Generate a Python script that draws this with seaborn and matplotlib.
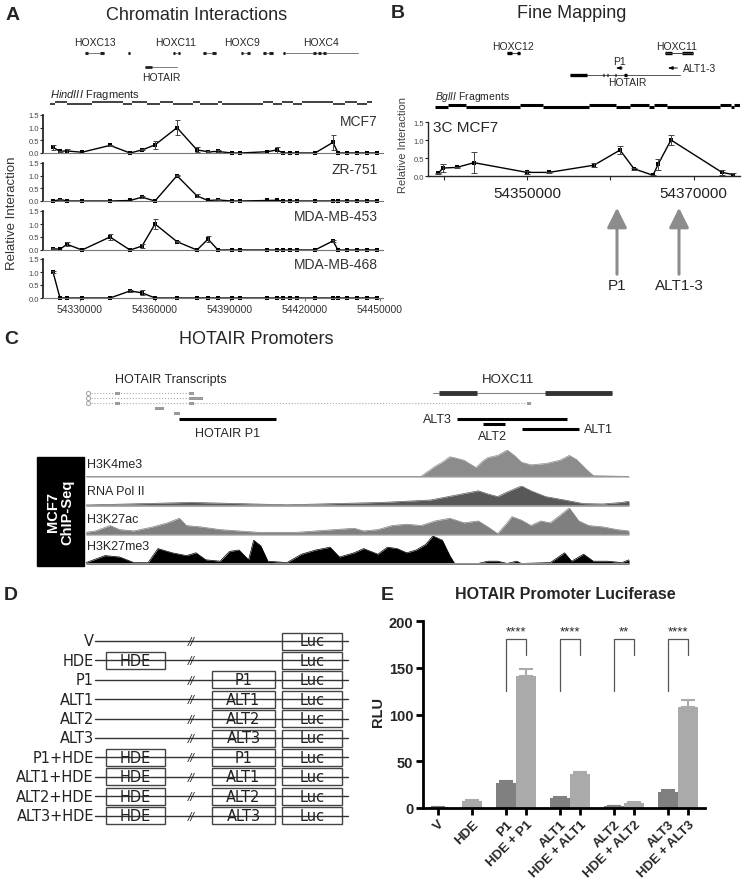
import numpy as np
import pandas as pd
import matplotlib
matplotlib.use("Agg")
import matplotlib.pyplot as plt
from matplotlib.patches import Rectangle
import seaborn as sns

# ---------------- panel A : HindIII 3C profiles ----------------
a_pos = [54319200, 54322000, 54324800, 54330800, 54342000, 54350000, 54354800, 54360000,
         54368800, 54376800, 54381200, 54385200, 54390800, 54394000, 54404800, 54408800,
         54411200, 54414000, 54416800, 54424000, 54431200, 54433200, 54436800, 54440800,
         54444800, 54448800]
a_mcf7 = [0.22, 0.07, 0.08, 0.03, 0.30, 0.0, 0.12, 0.32, 1.0, 0.12, 0.05, 0.06, 0.0,
          0.0, 0.05, 0.12, 0.0, 0.0, 0.0, 0.0, 0.42, 0.0, 0.0, 0.0, 0.0, 0.0]
a_mcf7_err = [0.10, 0.02, 0.07, 0.0, 0.02, 0.0, 0.02, 0.15, 0.30, 0.10, 0.02, 0.04, 0.0,
              0.0, 0.0, 0.12, 0.0, 0.0, 0.0, 0.0, 0.30, 0.0, 0.0, 0.0, 0.0, 0.0]
a_zr = [0.0, 0.05, 0.0, 0.0, 0.0, 0.02, 0.15, 0.0, 1.0, 0.20, 0.02, 0.04, 0.0,
        0.0, 0.02, 0.03, 0.0, 0.0, 0.0, 0.0, 0.0, 0.0, 0.0, 0.0, 0.0, 0.0]
a_zr_err = [0.0, 0.02, 0.0, 0.0, 0.0, 0.0, 0.03, 0.0, 0.03, 0.06, 0.0, 0.02, 0.0,
            0.0, 0.0, 0.0, 0.0, 0.0, 0.0, 0.0, 0.0, 0.0, 0.0, 0.0, 0.0, 0.0]
a_453 = [0.05, 0.03, 0.22, 0.0, 0.50, 0.0, 0.15, 1.0, 0.32, 0.0, 0.42, 0.0, 0.0,
         0.0, 0.0, 0.0, 0.0, 0.0, 0.0, 0.0, 0.35, 0.0, 0.0, 0.0, 0.0, 0.0]
a_453_err = [0.02, 0.0, 0.08, 0.0, 0.10, 0.0, 0.08, 0.20, 0.02, 0.0, 0.12, 0.0, 0.0,
             0.0, 0.0, 0.0, 0.0, 0.0, 0.0, 0.0, 0.03, 0.0, 0.0, 0.0, 0.0, 0.0]
a_468 = [1.0, 0.0, 0.0, 0.0, 0.0, 0.27, 0.20, 0.0, 0.0, 0.0, 0.0, 0.0, 0.0,
         0.0, 0.0, 0.0, 0.0, 0.0, 0.0, 0.0, 0.0, 0.0, 0.0, 0.0, 0.0, 0.0]
a_468_err = [0.02, 0.0, 0.0, 0.0, 0.0, 0.02, 0.10, 0.0, 0.0, 0.0, 0.0, 0.0, 0.0,
             0.0, 0.0, 0.0, 0.0, 0.0, 0.0, 0.0, 0.0, 0.0, 0.0, 0.0, 0.0, 0.0]
a_cells = ["MCF7", "ZR-751", "MDA-MB-453", "MDA-MB-468"]
a_xticks = [54330000, 54360000, 54390000, 54420000, 54450000]

a_gene_names = ["HOXC13", "HOXC11", "HOXC9", "HOXC4"]
a_gene_mid = [54336000, 54368400, 54394800, 54426400]
a_gene_spans = [(54332000, 54339600), (54349200, 54350000), (54367200, 54370000),
                (54379200, 54384400), (54394400, 54398000), (54403200, 54407200),
                (54411200, 54441200)]
a_exons = [(54332000, 54333200), (54338000, 54339600), (54349200, 54350000),
           (54367200, 54368000), (54369200, 54370000), (54379200, 54380400),
           (54382800, 54384400), (54394400, 54395200), (54396800, 54398000),
           (54403200, 54404400), (54405600, 54407200), (54411200, 54412000),
           (54423200, 54424400), (54425200, 54426400), (54427200, 54428400)]
a_hotair = (54356000, 54368800)
a_hotair_exon = (54356000, 54358800)
a_frags = [54318000, 54320000, 54324800, 54334800, 54347200, 54350800, 54356800, 54362000,
           54367200, 54375200, 54378000, 54385200, 54386800, 54403200, 54407200, 54410800,
           54415200, 54418800, 54431200, 54436000, 54440800, 54444800, 54446800]

# ---------------- panel B : BglII fine mapping ----------------
b_pos = [54339320, 54339920, 54341600, 54343640, 54350000, 54352640, 54358040,
         54361160, 54362840, 54365120, 54365720, 54367280, 54373400, 54374720]
b_val = [0.07, 0.22, 0.24, 0.37, 0.10, 0.10, 0.30, 0.72, 0.20, 0.02, 0.32, 1.00, 0.10, 0.04]
b_err = [0.02, 0.10, 0.02, 0.30, 0.05, 0.02, 0.05, 0.12, 0.02, 0.02, 0.15, 0.13, 0.07, 0.03]
b_frags = [54338960, 54340520, 54342680, 54349160, 54351920, 54357440, 54360680, 54362360,
           54364640, 54365240, 54366800, 54373160, 54374480, 54374840, 54375560]
b_hoxc12 = [(54347600, 54348200), (54348800, 54349160)]
b_hoxc11 = [(54366560, 54367400), (54368600, 54369920)]
b_hotair = (54355160, 54368360)
b_hotair_exons = [(54355160, 54357200), (54359120, 54359280), (54359600, 54359760),
                  (54360560, 54360720), (54361640, 54362000)]
b_p1_arrow = (54361760, 54360320)
b_alt_arrow = (54368360, 54366560)
b_marks = [("P1", 54360800), ("ALT1-3", 54368240)]

# ---------------- panel C : browser view (kb) ----------------
c_tx_start = 0.06
c_tx_ends = [3.18, 3.45, 13.11]
c_tx_exons = [[(0.85, 1.00), (3.04, 3.18)], [(3.04, 3.45)], [(0.85, 1.00), (3.04, 3.18), (13.00, 13.11)]]
c_short = [(2.03, 2.30), (2.59, 2.77)]
c_hoxc11 = (10.23, 15.50)
c_hoxc11_exons = [(10.40, 11.52), (13.53, 15.50)]
c_regions = {"HOTAIR P1": (2.74, 5.60), "ALT3": (10.93, 14.17), "ALT2": (11.70, 12.35), "ALT1": (12.85, 14.53)}

k4_pos = [0, 9.87, 10.01, 10.29, 10.50, 10.72, 10.90, 11.14, 11.49, 11.70, 11.84, 12.13,
          12.41, 12.62, 12.83, 13.11, 13.54, 13.96, 14.24, 14.45, 14.73, 14.95, 16.0]
k4_val = [0.02, 0.02, 0.15, 0.40, 0.55, 0.75, 0.70, 0.62, 0.35, 0.60, 0.72, 0.80,
          1.00, 0.80, 0.55, 0.45, 0.50, 0.62, 0.80, 0.65, 0.30, 0.05, 0.02]
pol_pos = [0, 1.69, 3.10, 4.51, 5.92, 7.33, 8.74, 10.15, 10.86, 11.56, 11.84, 12.13,
           12.41, 12.83, 13.11, 13.54, 14.10, 14.66, 15.23, 15.79, 16.0]
pol_val = [0.05, 0.12, 0.18, 0.12, 0.06, 0.12, 0.18, 0.30, 0.53, 0.76, 0.60, 0.47,
           0.70, 1.00, 0.76, 0.47, 0.30, 0.12, 0.10, 0.18, 0.24]
ac_pos = [0, 0.28, 0.71, 0.99, 1.41, 1.97, 2.40, 2.75, 2.96, 3.38, 3.95, 4.51, 5.08, 5.64,
          6.20, 6.77, 7.33, 7.90, 8.18, 8.60, 9.02, 9.45, 9.87, 10.29, 10.72, 11.14, 11.56,
          11.84, 12.13, 12.41, 12.55, 12.83, 13.11, 13.40, 13.68, 13.96, 14.24, 14.52, 14.81,
          15.23, 15.65, 16.0]
ac_val = [0.10, 0.15, 0.35, 0.20, 0.15, 0.30, 0.45, 0.62, 0.35, 0.30, 0.20, 0.15, 0.10, 0.10,
          0.10, 0.15, 0.20, 0.25, 0.15, 0.20, 0.35, 0.40, 0.35, 0.52, 0.62, 0.45, 0.52,
          0.30, 0.05, 0.45, 0.68, 0.55, 0.35, 0.52, 0.45, 0.72, 1.00, 0.52, 0.35,
          0.30, 0.20, 0.15]
me3_pos = [0, 0.56, 0.99, 1.41, 1.83, 2.12, 2.54, 2.96, 3.24, 3.53, 3.95, 4.23, 4.51, 4.79,
           4.94, 5.15, 5.36, 5.92, 6.35, 6.77, 7.19, 7.47, 7.90, 8.18, 8.60, 8.88, 9.17, 9.45,
           9.73, 10.01, 10.22, 10.50, 10.72, 10.86, 11.56, 11.84, 12.13, 12.41, 12.69, 12.83,
           13.68, 14.10, 14.31, 14.66, 14.95, 15.37, 15.79, 16.0]
me3_val = [0.05, 0.30, 0.25, 0.05, 0.05, 0.55, 0.40, 0.30, 0.40, 0.15, 0.10, 0.45, 0.50, 0.15,
           0.85, 0.65, 0.10, 0.05, 0.35, 0.50, 0.60, 0.25, 0.40, 0.55, 0.35, 0.60, 0.55, 0.40,
           0.50, 0.70, 1.00, 0.85, 0.30, 0.02, 0.02, 0.10, 0.10, 0.02, 0.10, 0.02,
           0.05, 0.40, 0.10, 0.35, 0.10, 0.10, 0.05, 0.15]

# ---------------- panel D : constructs ----------------
d_names = ["V", "HDE", "P1", "ALT1", "ALT2", "ALT3", "P1+HDE", "ALT1+HDE", "ALT2+HDE", "ALT3+HDE"]
d_enh = [False, True, False, False, False, False, True, True, True, True]
d_prom = [None, None, "P1", "ALT1", "ALT2", "ALT3", "P1", "ALT1", "ALT2", "ALT3"]

# ---------------- panel E : luciferase ----------------
e_labels = ["V", "HDE", "P1", "HDE + P1", "ALT1", "HDE + ALT1", "ALT2", "HDE + ALT2", "ALT3", "HDE + ALT3"]
e_rlu = [1.0, 7.5, 27, 141, 11, 36, 2, 5.5, 17.5, 108.5]
e_err = [0.3, 1.0, 1.5, 8, 1.0, 2.0, 0.5, 1.2, 1.5, 7.5]
e_group = ["alone", "hde", "alone", "hde", "alone", "hde", "alone", "hde", "alone", "hde"]
e_sig = ["****", "****", "**", "****"]

W, H = 750, 887
sns.set_style("ticks")
plt.rcParams["font.family"] = ["Liberation Sans", "DejaVu Sans"]
plt.rcParams["mathtext.fontset"] = "custom"
plt.rcParams["mathtext.it"] = "Liberation Sans:italic"
plt.rcParams["mathtext.rm"] = "Liberation Sans"

fig = plt.figure(figsize=(W / 100, H / 100), dpi=100)
fig.patch.set_facecolor("white")


def box(x0, y0, x1, y1):
    return fig.add_axes([x0 / W, 1 - y1 / H, (x1 - x0) / W, (y1 - y0) / H])


def ftext(x, y, s, **kw):
    kw.setdefault("ha", "center")
    kw.setdefault("va", "center")
    fig.text(x / W, 1 - y / H, s, **kw)


# panel letters and titles
for lab, x, y in [("A", 13, 15), ("B", 398, 14), ("C", 11, 339), ("D", 11, 596), ("E", 387, 596)]:
    ftext(x, y, lab, fontsize=14, fontweight="bold")
ftext(197, 15, "Chromatin Interactions", fontsize=13)
ftext(572, 14, "Fine Mapping", fontsize=13)
ftext(256, 339, "HOTAIR Promoters", fontsize=13)
ftext(565, 595, "HOTAIR Promoter Luciferase", fontsize=11.5, fontweight="bold")

# ---- A: gene track ----
a_xlim = (54315200, 54451200)
ax = box(43, 30, 383, 112)
ax.set_xlim(*a_xlim)
ax.set_ylim(112, 30)
ax.axis("off")
for s, e in a_gene_spans:
    ax.plot([s, e], [54, 54], color="#666", lw=0.6)
for s, e in a_exons:
    ax.plot([s, e], [54, 54], color="#222", lw=2.2, solid_capstyle="butt")
for name, m in zip(a_gene_names, a_gene_mid):
    ax.text(m, 43, name, ha="center", va="center", fontsize=7.5)
ax.plot(a_hotair, [68, 68], color="#666", lw=0.6)
ax.plot(a_hotair_exon, [68, 68], color="#222", lw=2, solid_capstyle="butt")
ax.text(np.mean(a_hotair), 78, "HOTAIR", ha="center", va="center", fontsize=7.5)
ax.text(a_frags[0], 95, r"$\it{HindIII}$ Fragments", ha="left", va="center", fontsize=8)
for i in range(len(a_frags) - 1):
    yy = 102.5 if i % 2 else 104.5
    ax.plot([a_frags[i], a_frags[i + 1]], [yy, yy], color="#333", lw=1.3, solid_capstyle="butt")

# ---- A: interaction profiles ----
a_rows = [(a_mcf7, a_mcf7_err, 116, 154, 122), (a_zr, a_zr_err, 164, 202, 170),
          (a_453, a_453_err, 212, 251, 217), (a_468, a_468_err, 260, 299, 265)]
for k, (vals, err, top, bot, ly) in enumerate(a_rows):
    ax = box(43, top, 383, bot)
    sns.lineplot(x=a_pos, y=vals, ax=ax, color="black", linewidth=1.0, marker="s",
                 markersize=2.2, markeredgewidth=0, clip_on=False)
    m = np.array(err) > 0
    ax.errorbar(np.array(a_pos)[m], np.array(vals)[m], yerr=np.array(err)[m], fmt="none",
                ecolor="#444", elinewidth=0.7, capsize=1.8, capthick=0.7, clip_on=False)
    ax.set_xlim(*a_xlim)
    ax.set_ylim(0, 1.5)
    ax.set_yticks([0, 0.5, 1.0, 1.5])
    ax.set_yticklabels(["0.0", "0.5", "1.0", "1.5"], fontsize=5.5, color="#444")
    ax.tick_params(axis="y", length=2, width=0.8, pad=1)
    for sp in ["top", "right"]:
        ax.spines[sp].set_visible(False)
    ax.spines["left"].set_linewidth(1.3)
    ax.spines["bottom"].set_color("#777")
    ax.spines["bottom"].set_linewidth(0.8)
    if k == 3:
        ax.set_xticks(a_xticks)
        ax.set_xticklabels([str(t) for t in a_xticks], fontsize=7.5, color="#333")
        ax.tick_params(axis="x", length=2, color="#777", pad=2)
    else:
        ax.set_xticks([])
    ftext(378, ly, a_cells[k], ha="right", fontsize=10, color="#333")
ftext(12, 213, "Relative Interaction", rotation=90, fontsize=9.5, color="#333")

# ---- B: gene track ----
b_xlim = (54338120, 54375560)
ax = box(428, 35, 740, 112)
ax.set_xlim(*b_xlim)
ax.set_ylim(112, 35)
ax.axis("off")
ax.plot([b_hoxc12[0][0], b_hoxc12[-1][1]], [54, 54], color="#444", lw=0.7)
for s, e in b_hoxc12 + b_hoxc11:
    ax.plot([s, e], [54, 54], color="black", lw=2.4, solid_capstyle="butt")
ax.plot([b_hoxc11[0][0], b_hoxc11[-1][1]], [54, 54], color="#444", lw=0.7)
ax.text(54348320, 47, "HOXC12", ha="center", va="center", fontsize=7.5)
ax.text(54368000, 47, "HOXC11", ha="center", va="center", fontsize=7.5)
ax.plot(b_hotair, [76, 76], color="#555", lw=0.7)
for s, e in b_hotair_exons:
    ax.plot([s, e], [76, 76], color="black", lw=2.4, solid_capstyle="butt")
ax.text(54362000, 83.5, "HOTAIR", ha="center", va="center", fontsize=7.5)
for (x0, x1) in [b_p1_arrow, b_alt_arrow]:
    ax.annotate("", xy=(x1, 69), xytext=(x0, 69),
                arrowprops=dict(arrowstyle="-|>,head_width=0.12,head_length=0.35",
                                color="black", lw=0.7, mutation_scale=8))
ax.text(54361160, 62, "P1", ha="center", va="center", fontsize=7.5)
ax.text(54368720, 69, "ALT1-3", ha="left", va="center", fontsize=7.5)
ax.text(b_frags[0], 97, r"$\it{BglII}$ Fragments", ha="left", va="center", fontsize=7.5)
for i in range(len(b_frags) - 1):
    yy = 108 if i % 2 == 0 else 105.5
    ax.plot([b_frags[i], b_frags[i + 1]], [yy, yy], color="black", lw=2.2, solid_capstyle="butt")

# ---- B: profile ----
ax = box(428, 123, 740, 177)
sns.lineplot(x=b_pos, y=b_val, ax=ax, color="black", linewidth=1.0, marker="s",
             markersize=2.2, markeredgewidth=0, clip_on=False)
ax.errorbar(b_pos, b_val, yerr=b_err, fmt="none", ecolor="#444", elinewidth=0.7,
            capsize=2, capthick=0.7, clip_on=False)
ax.set_xlim(*b_xlim)
ax.set_ylim(0, 1.5)
ax.set_yticks([0, 0.5, 1.0, 1.5])
ax.set_yticklabels(["0.0", "0.5", "1.0", "1.5"], fontsize=5.5, color="#444")
ax.set_xticks([54340000, 54350000, 54360000, 54370000])
ax.set_xticklabels(["", "54350000", "", "54370000"], fontsize=11, color="#222")
ax.tick_params(axis="y", length=2, width=0.8, pad=1)
ax.tick_params(axis="x", length=3, width=0.8, pad=4)
for sp in ["top", "right"]:
    ax.spines[sp].set_visible(False)
ax.spines["left"].set_linewidth(1.0)
ax.spines["bottom"].set_linewidth(1.0)
ax.text(0.015, 0.9, "3C MCF7", transform=ax.transAxes, ha="left", va="center", fontsize=11)
ftext(403, 145, "Relative Interaction", rotation=90, fontsize=8, color="#444")
for name, x in b_marks:
    ax.annotate("", xy=(x, H - 206), xytext=(x, H - 278), xycoords=("data", "figure pixels"),
                textcoords=("data", "figure pixels"),
                arrowprops=dict(arrowstyle="-|>,head_width=0.3,head_length=0.6", color="#8c8c8c",
                                lw=2.2, mutation_scale=20))
    ax.annotate(name, xy=(x, H - 286), xycoords=("data", "figure pixels"), ha="center",
                va="center", fontsize=11)

# ---- C: annotation ----
ax = box(86, 370, 629, 445)
ax.set_xlim(0, 16)
ax.set_ylim(445, 370)
ax.axis("off")
for j, (end, exons) in enumerate(zip(c_tx_ends, c_tx_exons)):
    yy = 394 + 5 * j
    ax.plot([c_tx_start, end], [yy, yy], color="#aaa", lw=0.8, ls=":")
    ax.plot([c_tx_start], [yy], marker="o", ms=3, mfc="white", mec="#aaa", mew=0.8)
    for s, e in exons:
        ax.add_patch(Rectangle((s, yy - 1.5), e - s, 3, color="#999", lw=0))
for j, (s, e) in enumerate(c_short):
    ax.add_patch(Rectangle((s, 408 + 5 * j), e - s, 3, color="#999", lw=0))
ax.text(0.85, 380, "HOTAIR Transcripts", ha="left", va="center", fontsize=9)
ax.plot(c_hoxc11, [394, 394], color="#888", lw=0.8)
for s, e in c_hoxc11_exons:
    ax.plot([s, e], [394, 394], color="#333", lw=3.5, solid_capstyle="butt")
ax.text(12.44, 380, "HOXC11", ha="center", va="center", fontsize=9.5)
reg_y = {"HOTAIR P1": 420, "ALT3": 420, "ALT2": 425, "ALT1": 430}
for name, (s, e) in c_regions.items():
    ax.plot([s, e], [reg_y[name]] * 2, color="black", lw=2.2, solid_capstyle="butt")
ax.text(4.16, 434, "HOTAIR P1", ha="center", va="center", fontsize=9)
ax.text(10.79, 420, "ALT3", ha="right", va="center", fontsize=9)
ax.text(11.99, 437, "ALT2", ha="center", va="center", fontsize=9)
ax.text(14.68, 430, "ALT1", ha="left", va="center", fontsize=9)

# ---- C: ChIP-seq tracks ----
tracks = [("H3K4me3", k4_pos, k4_val, "#8c8c8c", 451, 478, 465),
          ("RNA Pol II", pol_pos, pol_val, "#585858", 487, 507, 492),
          ("H3K27ac", ac_pos, ac_val, "#7f7f7f", 509, 536, 520),
          ("H3K27me3", me3_pos, me3_val, "#000000", 537, 565, 547)]
for name, pos, val, col, top, base, ly in tracks:
    ax = box(86, top, 629, base)
    ax.fill_between(pos, val, color=col, lw=0)
    sns.lineplot(x=pos, y=val, ax=ax, color=col, linewidth=0.5)
    ax.axhline(0, color="#999", lw=1.4)
    ax.set_xlim(0, 16)
    ax.set_ylim(0, 1)
    ax.axis("off")
    ftext(87, ly, name, ha="left", fontsize=9)
fig.patches.append(Rectangle((37 / W, 1 - 567 / H), 47 / W, 109 / H, transform=fig.transFigure,
                             color="black", zorder=0))
ftext(60, 512, "MCF7\nChIP-Seq", rotation=90, color="white", fontsize=10.5,
      fontweight="bold", linespacing=1.0)

# ---- D: constructs ----
ax = box(0, 625, 375, 830)
ax.set_xlim(0, 375)
ax.set_ylim(830, 625)
ax.axis("off")
dfont = dict(family="DejaVu Sans", color="#222", va="center")
for i, (name, enh, prom) in enumerate(zip(d_names, d_enh, d_prom)):
    yy = 642 + 19.4 * i
    ax.plot([95, 348], [yy, yy], color="#333", lw=1)
    ax.text(94, yy, name, ha="right", fontsize=10.5, **dfont)
    ax.text(191, yy, "//", ha="center", fontsize=7.5, style="italic", **dfont)

    def part(x0, x1, label):
        ax.add_patch(Rectangle((x0, yy - 8.5), x1 - x0, 17, fc="white", ec="#444", lw=1))
        ax.text((x0 + x1) / 2, yy, label, ha="center", fontsize=10.5, **dfont)

    if enh:
        part(106, 165, "HDE")
    if prom:
        part(212, 275, prom)
    part(282, 342, "Luc")

# ---- E: luciferase bars ----
e_pos = []
x = 0.0
for i, lab in enumerate(e_labels):
    if i > 0:
        x += 1.0 if lab.startswith("HDE + ") else 1.7
    e_pos.append(round(x, 2))
df_e = pd.DataFrame({"pos": e_pos, "rlu": e_rlu, "err": e_err, "grp": e_group})
pal = {"alone": "#808080", "hde": "#aaaaaa"}
ax = box(423, 622, 705, 809)
sns.barplot(data=df_e, x="pos", y="rlu", hue="grp", palette=pal, native_scale=True,
            dodge=False, width=0.97, errorbar=None, saturation=1, legend=False,
            linewidth=0, ax=ax)
for g, sub in df_e.groupby("grp"):
    ax.errorbar(sub["pos"], sub["rlu"], yerr=[np.zeros(len(sub)), sub["err"]], fmt="none",
                ecolor=pal[g], elinewidth=1.5, capsize=5, capthick=1.5)
pairs = [(e_pos[i], e_pos[i + 1]) for i in range(2, len(e_pos), 2)]
for (x0, x1), sig in zip(pairs, e_sig):
    ax.plot([x0, x0, x1, x1], [125, 181, 181, 164], color="#555", lw=0.9)
    ax.text((x0 + x1) / 2, 182, sig, ha="center", va="bottom", fontsize=9.5)
ax.set_xlim(-0.75, 13.35)
ax.set_ylim(0, 200)
ax.set_yticks([0, 50, 100, 150, 200])
ax.set_yticklabels(["0", "50", "100", "150", "200"], fontsize=10.5, fontweight="bold")
ax.set_xticks(e_pos)
ax.set_xticklabels(e_labels, rotation=45, ha="right", rotation_mode="anchor",
                   fontsize=9.5, fontweight="bold")
ax.set_xlabel("")
ax.set_ylabel("")
ax.tick_params(axis="both", length=5, width=2, color="black", pad=2)
for sp in ["top", "right"]:
    ax.spines[sp].set_visible(False)
for sp in ["left", "bottom"]:
    ax.spines[sp].set_linewidth(2)
    ax.spines[sp].set_color("black")
ftext(378, 712, "RLU", rotation=90, fontsize=10.5, fontweight="bold")

fig.savefig("out.png", dpi=100, facecolor="white")
